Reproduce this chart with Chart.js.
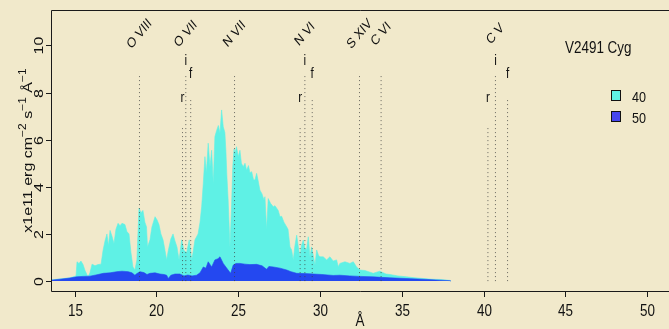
<!DOCTYPE html>
<html>
<head>
<meta charset="utf-8">
<script src="https://cdn.jsdelivr.net/npm/chart.js@4.4.0/dist/chart.umd.min.js"></script>
<style>
  html, body { margin: 0; padding: 0; background: #f1e9cb; }
  canvas { display: block; }
</style>
</head>
<body>
<canvas id="grafico" width="669" height="329"></canvas>
<script>
// ========================================
// DATOS DEL ESPECTRO (V2491 Cyg)
// ========================================
const seriesNames = ['40', '50'];

// serie "40" (cian)
const wl40 = [13.56, 14.72, 15.09, 15.15, 15.27, 15.39, 15.52, 15.64, 15.82, 15.94, 16.07, 16.25, 16.43, 16.62,
  16.74, 16.86, 16.98, 17.07, 17.17, 17.29, 17.41, 17.53, 17.66, 17.78, 17.90, 18.08, 18.20, 18.33, 18.45,
  18.57, 18.69, 18.81, 18.94, 19.06, 19.18, 19.30, 19.40, 19.46, 19.61, 19.73, 19.92, 20.04, 20.16, 20.28,
  20.41, 20.53, 20.63, 20.73, 20.89, 21.02, 21.14, 21.26, 21.39, 21.55, 21.69, 21.85, 22.01, 22.16, 22.24,
  22.36, 22.55, 22.67, 22.77, 22.87, 22.97, 23.06, 23.17, 23.28, 23.38, 23.48, 23.58, 23.69, 23.79, 23.89,
  23.99, 24.09, 24.19, 24.25, 24.31, 24.39, 24.50, 24.59, 24.67, 24.75, 24.81, 24.90, 25.01, 25.11, 25.20,
  25.31, 25.42, 25.52, 25.63, 25.72, 25.83, 25.94, 26.03, 26.13, 26.24, 26.33, 26.46, 26.58, 26.64, 26.74,
  26.84, 26.98, 27.15, 27.25, 27.45, 27.56, 27.66, 27.80, 27.97, 28.05, 28.17, 28.27, 28.37, 28.47, 28.58,
  28.69, 28.78, 28.87, 28.98, 29.08, 29.18, 29.29, 29.39, 29.49, 29.57, 29.70, 29.80, 29.91, 30.00, 30.20,
  30.41, 30.61, 30.81, 31.02, 31.12, 31.22, 31.53, 31.83, 32.04, 32.24, 32.45, 32.75, 33.06, 33.26, 33.47,
  33.67, 33.79, 34.04, 34.28, 34.77, 35.30, 35.81, 36.32, 36.85, 37.34, 37.64, 37.95, 38.01];
const flux40 = [0.05, 0.14, 0.22, 0.82, 0.75, 0.85, 0.70, 0.45, 0.18, 0.35, 0.72, 0.65, 0.70, 0.72,
  1.30, 1.70, 2.00, 1.50, 2.15, 1.90, 1.60, 2.20, 2.45, 2.35, 2.45, 2.40, 2.10, 2.00, 1.20,
  0.60, 0.47, 0.90, 3.10, 2.90, 3.00, 2.50, 2.30, 1.45, 1.75, 2.30, 2.73, 2.60, 2.40, 2.00,
  1.75, 1.30, 0.90, 1.30, 1.80, 2.00, 1.70, 1.45, 0.90, 1.75, 1.30, 1.20, 1.75, 0.90, 1.20,
  1.75, 2.00, 2.50, 3.15, 4.15, 5.28, 4.60, 5.85, 4.85, 5.55, 4.15, 6.13, 6.40, 6.60, 6.28,
  7.26, 6.55, 6.30, 5.55, 4.50, 3.44, 1.45, 3.00, 4.85, 5.60, 5.43, 5.70, 5.28, 5.55, 5.00,
  4.85, 5.00, 4.70, 4.90, 4.60, 4.64, 4.30, 4.29, 4.57, 4.20, 3.86, 3.70, 3.44, 3.58, 2.20,
  3.50, 3.30, 3.15, 3.20, 3.00, 2.73, 2.75, 2.50, 2.30, 2.20, 1.45, 1.32, 0.90, 1.50, 1.95,
  1.40, 1.03, 1.50, 1.74, 1.40, 1.32, 1.88, 1.03, 1.45, 1.17, 0.68, 1.32, 1.10, 1.03, 1.03,
  0.90, 1.03, 0.85, 0.90, 0.61, 0.75, 0.82, 0.75, 0.82, 0.60, 0.47, 0.45, 0.38, 0.33, 0.38,
  0.42, 0.38, 0.30, 0.28, 0.22, 0.18, 0.14, 0.11, 0.08, 0.07, 0.05, 0.03, 0.00];

// serie "50" (azul)
const wl50 = [13.56, 14.11, 14.72, 15.13, 15.52, 15.94, 16.31, 16.76, 17.17, 17.58, 17.90, 18.28, 18.51,
  18.69, 18.81, 19.00, 19.24, 19.43, 19.61, 19.92, 20.22, 20.47, 20.63, 20.73, 20.89, 21.14, 21.44, 21.69,
  21.93, 22.18, 22.46, 22.67, 22.87, 23.03, 23.17, 23.38, 23.58, 23.77, 23.89, 24.09, 24.25, 24.39, 24.54,
  24.70, 24.87, 25.11, 25.42, 25.72, 26.13, 26.46, 26.74, 26.88, 27.15, 27.56, 27.97, 28.23, 28.58, 29.08,
  29.60, 30.12, 30.81, 31.22, 31.83, 32.45, 33.24, 34.28, 35.26, 36.30, 37.34, 37.95, 38.01];
const flux50 = [0.04, 0.08, 0.13, 0.18, 0.20, 0.21, 0.26, 0.33, 0.35, 0.40, 0.42, 0.40, 0.35,
  0.25, 0.32, 0.40, 0.36, 0.28, 0.33, 0.35, 0.30, 0.28, 0.25, 0.11, 0.25, 0.30, 0.30, 0.22,
  0.26, 0.22, 0.25, 0.35, 0.60, 0.55, 0.82, 0.60, 0.90, 0.95, 1.03, 0.75, 0.60, 0.47, 0.33,
  0.68, 0.75, 0.75, 0.72, 0.70, 0.71, 0.65, 0.50, 0.62, 0.60, 0.55, 0.47, 0.40, 0.33, 0.32,
  0.30, 0.28, 0.24, 0.25, 0.22, 0.20, 0.18, 0.14, 0.11, 0.08, 0.04, 0.02, 0.00];

// lineas de emision (dotted)
const markerWaves = [18.97, 21.60, 21.80, 22.10, 24.78, 28.79, 29.08, 29.53, 32.42, 33.74, 40.27, 40.73, 41.47];
const markerTops  = [8.7, 6.5, 8.7, 7.7, 8.7, 6.5, 8.7, 7.7, 8.7, 8.7, 6.5, 8.7, 7.7];
const markerTags  = ['', 'r', 'i', 'f', '', 'r', 'i', 'f', '', '', 'r', 'i', 'f'];
const tagLevels   = { r: 7.77, i: 9.34, f: 8.79 };

// nombres de los iones
const ionNames = ['O VIII', 'O VII', 'N VII', 'N VI', 'S XIV', 'C VI', 'C V'];
const ionWaves = [18.97, 21.80, 24.78, 29.08, 32.42, 33.74, 40.73];
const ionLevel = 10.48;

// ejes
const xTicks = [15, 20, 25, 30, 35, 40, 45, 50];
const yTicks = [0, 2, 4, 6, 8, 10];
const xRange = [13.56, 51.34];
const yRange = [-0.42, 11.5];

// ========================================
// ESTILOS
// ========================================
const COLOR_40 = '#5ff1e5';
const COLOR_50 = '#2448f0';
const FONDO = '#f1e9cb';
const SQ = 0.84;   // texto algo comprimido en horizontal
const FONT = '"Liberation Sans", Arial, Helvetica, sans-serif';

function toPoints(xs, ys) {
    return xs.map((x, i) => ({ x: x, y: ys[i] }));
}

function drawText(ctx, str, x, y, angle, size, align, baseline) {
    ctx.save();
    ctx.translate(x, y);
    ctx.scale(SQ, 1);
    ctx.rotate(angle);
    ctx.font = size + 'px ' + FONT;
    ctx.textAlign = align;
    ctx.textBaseline = baseline;
    ctx.fillText(str, 0, 0);
    ctx.restore();
}

// ========================================
// PLUGIN: fondo, ejes y textos
// ========================================
const fondoPlugin = {
    id: 'fondo',
    beforeDraw(chart) {
        const ctx = chart.ctx;
        ctx.save();
        ctx.fillStyle = FONDO;
        ctx.fillRect(0, 0, chart.width, chart.height);
        ctx.restore();
    }
};

const ejesPlugin = {
    id: 'ejes',
    afterDraw(chart) {
        const ctx = chart.ctx;
        const area = chart.chartArea;
        const xs = chart.scales.x;
        const ys = chart.scales.y;

        ctx.save();
        ctx.strokeStyle = '#1a1a1a';
        ctx.fillStyle = '#111';
        ctx.lineWidth = 1;

        // caja (el lado derecho queda fuera)
        ctx.beginPath();
        ctx.moveTo(chart.width + 2, area.top + 0.5);
        ctx.lineTo(area.left + 0.5, area.top + 0.5);
        ctx.lineTo(area.left + 0.5, area.bottom + 0.5);
        ctx.lineTo(chart.width + 2, area.bottom + 0.5);
        ctx.stroke();

        // eje x
        xTicks.forEach(v => {
            const px = Math.round(xs.getPixelForValue(v)) + 0.5;
            ctx.beginPath();
            ctx.moveTo(px, area.bottom);
            ctx.lineTo(px, area.bottom + 6);
            ctx.stroke();
            drawText(ctx, String(v), px, area.bottom + 25, 0, 16, 'center', 'alphabetic');
        });
        drawText(ctx, 'Å', (area.left + area.right) / 2, 326, 0, 16, 'center', 'alphabetic');

        // eje y
        yTicks.forEach(v => {
            const py = Math.round(ys.getPixelForValue(v)) + 0.5;
            ctx.beginPath();
            ctx.moveTo(area.left - 5, py);
            ctx.lineTo(area.left, py);
            ctx.stroke();
            drawText(ctx, String(v), area.left - 8, py, -Math.PI / 2, 16, 'center', 'alphabetic');
        });

        // titulo eje y con superindices
        const partes = [
            ['x1e11 erg cm', 0], ['\u22122', 1], [' s', 0], ['\u22121', 1], [' Å', 0], ['\u22121', 1]
        ];
        ctx.save();
        ctx.translate(32, (area.top + area.bottom) / 2);
        ctx.scale(SQ, 1);
        ctx.rotate(-Math.PI / 2);
        ctx.textBaseline = 'alphabetic';
        ctx.textAlign = 'left';
        let total = 0;
        partes.forEach(p => {
            ctx.font = (p[1] ? 12 : 16) + 'px ' + FONT;
            total += ctx.measureText(p[0]).width;
        });
        let cx = -total / 2;
        partes.forEach(p => {
            ctx.font = (p[1] ? 12 : 16) + 'px ' + FONT;
            ctx.fillText(p[0], cx, p[1] ? -7 : 0);
            cx += ctx.measureText(p[0]).width;
        });
        ctx.restore();

        // nombres de iones
        ionNames.forEach((name, i) => {
            const px = xs.getPixelForValue(ionWaves[i]);
            drawText(ctx, name, px, ys.getPixelForValue(ionLevel), -Math.PI / 4, 14, 'center', 'middle');
        });

        // etiquetas r / i / f
        markerTags.forEach((tag, i) => {
            if (!tag) return;
            const px = xs.getPixelForValue(markerWaves[i]);
            drawText(ctx, tag, px, ys.getPixelForValue(tagLevels[tag]), 0, 14, 'center', 'middle');
        });

        // leyenda
        drawText(ctx, 'V2491 Cyg', 565, 53, 0, 16, 'left', 'alphabetic');
        const colores = [COLOR_40, '#4646ee'];
        seriesNames.forEach((name, i) => {
            const top = 90 + i * 21;
            ctx.fillStyle = colores[i];
            ctx.fillRect(611, top, 10, 11);
            ctx.strokeStyle = '#111';
            ctx.strokeRect(611.5, top + 0.5, 9, 10);
            ctx.fillStyle = '#111';
            drawText(ctx, name, 632, top + 11.5, 0, 15, 'left', 'alphabetic');
        });

        ctx.restore();
    }
};

// ========================================
// DATASETS
// ========================================
const datasets = [];

markerWaves.forEach((w, i) => {
    datasets.push({
        data: [{ x: w, y: 0 }, { x: w, y: markerTops[i] }],
        borderColor: 'rgba(60,60,60,0.75)',
        borderWidth: 1,
        borderDash: [1, 3],
        fill: false,
        pointRadius: 0,
        order: 0
    });
});

datasets.push({
    label: seriesNames[1],
    data: toPoints(wl50, flux50),
    borderColor: COLOR_50,
    borderWidth: 0.6,
    backgroundColor: COLOR_50,
    fill: 'origin',
    pointRadius: 0,
    order: 1
});

datasets.push({
    label: seriesNames[0],
    data: toPoints(wl40, flux40),
    borderColor: COLOR_40,
    borderWidth: 0.6,
    backgroundColor: COLOR_40,
    fill: 'origin',
    pointRadius: 0,
    order: 2
});

// ========================================
// GRAFICO
// ========================================
const ctx = document.getElementById('grafico').getContext('2d');
new Chart(ctx, {
    type: 'line',
    data: { datasets: datasets },
    options: {
        responsive: false,
        devicePixelRatio: 1,
        animation: false,
        layout: { padding: { left: 51, top: 10, right: 0, bottom: 38 } },
        elements: { line: { tension: 0 } },
        plugins: {
            legend: { display: false },
            tooltip: { enabled: false }
        },
        scales: {
            x: { type: 'linear', display: false, min: xRange[0], max: xRange[1] },
            y: { display: false, min: yRange[0], max: yRange[1] }
        }
    },
    plugins: [fondoPlugin, ejesPlugin]
});
</script>
</body>
</html>
